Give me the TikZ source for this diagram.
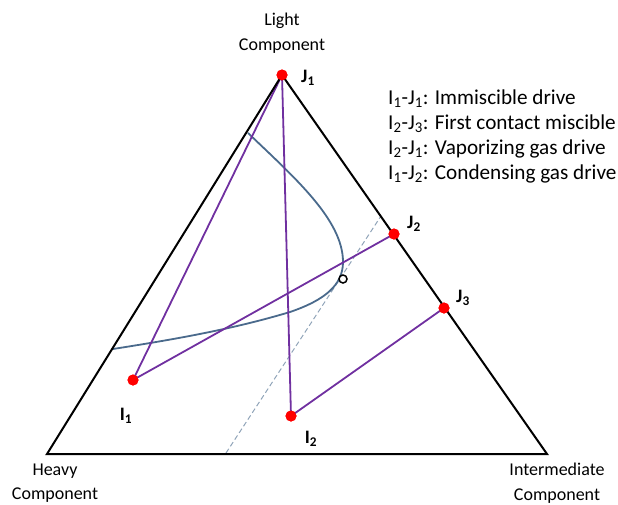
\documentclass[tikz,border=0pt]{standalone}
\usepackage{fontspec}
\setmainfont{Carlito}
\begin{document}
\begin{tikzpicture}[x=1pt,y=-1pt,
  edge/.style={line width=2pt,black},
  pline/.style={line width=1.8pt,color=pcol},
  curve/.style={line width=1.8pt,color=ccol},
  dot/.style={circle,fill=red,inner sep=0pt,minimum size=11pt},
  plabel/.style={font=\bfseries\fontsize{19}{22}\selectfont},
  clabel/.style={align=center,font=\fontsize{18}{24.5}\selectfont},
  legend/.style={anchor=west,font=\fontsize{21.2}{24}\selectfont,inner sep=0pt}]
\definecolor{pcol}{HTML}{7030A0}
\definecolor{ccol}{HTML}{4A6A8C}
\definecolor{dcol}{HTML}{8FA3B8}
\useasboundingbox (0,0) rectangle (618,504);
\coordinate (L) at (282,75);
\coordinate (H) at (47,454);
\coordinate (M) at (547,454);
\coordinate (d1) at (226,453);
\coordinate (d2) at (381,216);
\draw[dcol,line width=1pt,dash pattern=on 5pt off 3pt] (d1) -- (d2);
\draw[curve] (248,133) .. controls (295,178) and (343,220) .. (343,262)
  .. controls (343,285) and (325,300) .. (290,312)
  .. controls (230,330) and (170,340) .. (113,349);
\node[dot] (J1) at (282,75) {};
\node[dot] (J2) at (394,234) {};
\node[dot] (J3) at (444,308) {};
\node[dot] (I1) at (133,380) {};
\node[dot] (I2) at (291,416) {};
\draw[pline] (J1.center) -- (I1.center);
\draw[pline] (J1.center) -- (I2.center);
\draw[pline] (I1.center) -- (J2.center);
\draw[pline] (I2.center) -- (J3.center);
\draw[edge,line join=miter] (L) -- (H) -- (M) -- cycle;
\node[dot] at (J1) {};
\node[dot] at (J2) {};
\node[dot] at (J3) {};
\node[dot] at (I1) {};
\node[dot] at (I2) {};
\node[circle,draw=black,line width=1.5pt,inner sep=0pt,minimum size=8pt,fill=white] (P) at (343,279) {};
\node[plabel] (lJ1) at (308,78) {J\textsubscript{1}};
\node[plabel] (lJ2) at (414,224) {J\textsubscript{2}};
\node[plabel] (lJ3) at (463,298) {J\textsubscript{3}};
\node[plabel] (lI1) at (126,416) {I\textsubscript{1}};
\node[plabel] (lI2) at (311,439) {I\textsubscript{2}};
\node[clabel] (tL) at (282,33) {Light\\Component};
\node[clabel] (tH) at (55,483) {Heavy\\Component};
\node[clabel] (tM) at (557,483) {Intermediate\\Component};
\node[legend] (g1) at (388,99) {I\textsubscript{1}-J\textsubscript{1}: Immiscible drive};
\node[legend] (g2) at (388,124) {I\textsubscript{2}-J\textsubscript{3}: First contact miscible};
\node[legend] (g3) at (388,149) {I\textsubscript{2}-J\textsubscript{1}: Vaporizing gas drive};
\node[legend] (g4) at (388,174) {I\textsubscript{1}-J\textsubscript{2}: Condensing gas drive};
\end{tikzpicture}
\end{document}
